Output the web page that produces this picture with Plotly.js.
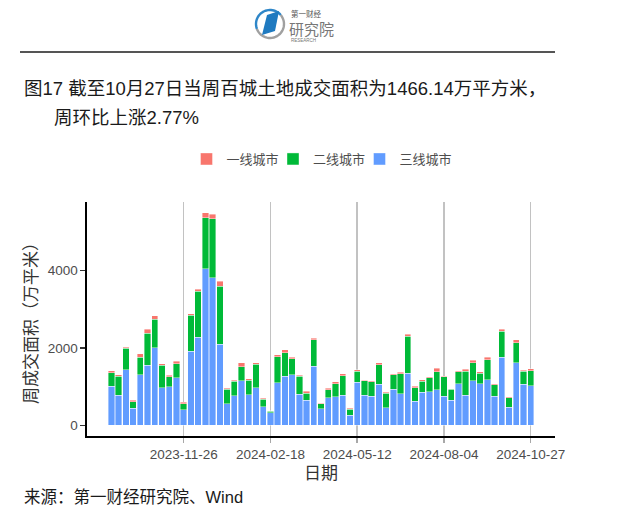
<!DOCTYPE html>
<html>
<head>
<meta charset="utf-8">
<script src="https://cdn.plot.ly/plotly-3.0.1.min.js"></script>
<style>
html,body{margin:0;padding:0;background:#fff;}
#chart{width:640px;height:516px;}
</style>
</head>
<body>
<div id="chart"></div>
<script>
// ---------- data ----------
const weeks = [
  '2023-09-17','2023-09-24','2023-10-01','2023-10-08','2023-10-15','2023-10-22','2023-10-29',
  '2023-11-05','2023-11-12','2023-11-19','2023-11-26','2023-12-03','2023-12-10','2023-12-17',
  '2023-12-24','2023-12-31','2024-01-07','2024-01-14','2024-01-21','2024-01-28','2024-02-04',
  '2024-02-11','2024-02-18','2024-02-25','2024-03-03','2024-03-10','2024-03-17','2024-03-24',
  '2024-03-31','2024-04-07','2024-04-14','2024-04-21','2024-04-28','2024-05-05','2024-05-12',
  '2024-05-19','2024-05-26','2024-06-02','2024-06-09','2024-06-16','2024-06-23','2024-06-30',
  '2024-07-07','2024-07-14','2024-07-21','2024-07-28','2024-08-04','2024-08-11','2024-08-18',
  '2024-08-25','2024-09-01','2024-09-08','2024-09-15','2024-09-22','2024-09-29','2024-10-06',
  '2024-10-13','2024-10-20','2024-10-27'
];
const tier3 = [1010,780,1440,440,1310,1560,2010,970,995,1230,410,1910,2280,4050,3820,2100,560,770,1150,790,
  970,480,325,1100,1270,1310,800,650,1530,430,710,745,780,265,1115,780,755,1065,455,935,
  815,1345,620,850,865,925,755,650,1080,780,1150,1080,1185,755,1760,470,1615,1060,1020];
const tier2 = [345,490,550,170,455,825,735,590,265,365,155,935,1185,1320,1525,1500,370,370,360,375,
  610,190,35,670,610,410,470,180,685,130,215,325,500,155,290,370,370,500,370,370,
  515,960,350,290,370,455,500,285,310,625,465,265,515,300,675,250,520,340,386];
const tier1 = [60,35,35,35,85,100,85,35,35,60,35,35,60,130,110,120,35,25,110,35,
  35,35,15,60,75,35,25,50,35,15,35,60,60,25,35,15,25,50,35,35,
  45,45,35,35,25,95,15,15,25,45,70,35,60,25,45,15,75,27,60];
const seriesNames = ['三线城市','二线城市','一线城市'];
const tickDates = ['2023-11-26','2024-02-18','2024-05-12','2024-08-04','2024-10-27'];
const yTicks = [0,2000,4000];
const titleLine1 = '图17 截至10月27日当周百城土地成交面积为1466.14万平方米，';
const titleLine2 = '周环比上涨2.77%';
const sourceText = '来源：第一财经研究院、Wind';

// ---------- layout helpers (pixel -> paper) ----------
const W = 640, H = 516, ML = 87, MR = 85, MT = 202, MB = 80;
const PW = W - ML - MR, PH = H - MT - MB;
const px = x => (x - ML) / PW;
const py = y => (H - MB - y) / PH;
const FONT = 'Liberation Sans, Arial, "Noto Sans CJK SC", sans-serif';

function arcPath(cx, cy, r, a0, a1) {
  let d = '';
  const n = 28;
  for (let i = 0; i <= n; i++) {
    const a = (a0 + (a1 - a0) * i / n) * Math.PI / 180;
    const x = px(cx + r * Math.cos(a)), y = py(cy - r * Math.sin(a));
    d += (i === 0 ? 'M' : 'L') + x + ',' + y;
  }
  return d;
}
function polyPath(pts) {
  return pts.map((p, i) => (i === 0 ? 'M' : 'L') + px(p[0]) + ',' + py(p[1])).join('') + 'Z';
}

const colors = ['#619CFF', '#00BA38', '#F8766D'];
const values = [tier3, tier2, tier1];
const legendIds = ['legend3', 'legend2', 'legend'];
const traces = values.map((v, i) => ({
  type: 'bar', x: weeks, y: v, name: seriesNames[i], legend: legendIds[i], showlegend: true,
  marker: {color: colors[i], line: {color: 'rgba(255,255,255,0.8)', width: 0.5}},
  hoverinfo: 'skip'
}));

function legendAt(xSym) {
  return {
    orientation: 'h', x: px(xSym - 20), y: py(159), xanchor: 'left', yanchor: 'middle',
    font: {size: 13, color: '#4D4D4D'}, bgcolor: 'rgba(0,0,0,0)', visible: true
  };
}

const layout = {
  width: W, height: H,
  margin: {l: ML, r: MR, t: MT, b: MB, pad: 0},
  paper_bgcolor: '#fff', plot_bgcolor: '#fff',
  showlegend: true,
  barmode: 'stack', bargap: 0.12,
  font: {family: FONT, color: '#4D4D4D'},
  title: {
    text: titleLine1, xref: 'container', yref: 'container',
    x: 24 / W, xanchor: 'left', y: 1 - 89 / H, yanchor: 'middle',
    font: {size: 18.5, color: '#1a1a1a', family: FONT}
  },
  xaxis: {
    type: 'date', range: ['2023-08-24 10:00', '2024-11-19 12:00'],
    tickvals: tickDates, ticktext: tickDates,
    ticks: 'outside', ticklen: 5, tickwidth: 1.5, tickcolor: '#A8A8A8',
    showline: true, linecolor: '#000', linewidth: 1.6,
    showgrid: true, gridcolor: '#C2C2C2', gridwidth: 1.5, zeroline: false,
    tickfont: {size: 13.5, color: '#4D4D4D'},
    title: {text: '日期', font: {size: 17, color: '#333'}, standoff: 6}
  },
  yaxis: {
    range: [-275, 5775], tickvals: yTicks, ticktext: yTicks.map(String),
    ticks: 'outside', ticklen: 5, tickwidth: 1.5, tickcolor: '#333',
    showline: true, linecolor: '#000', linewidth: 1.6,
    showgrid: false, zeroline: false,
    tickfont: {size: 13.5, color: '#4D4D4D'},
    title: {text: '周成交面积（万平米）', font: {size: 17, color: '#333'}, standoff: 6}
  },
  legend: legendAt(206.5),
  legend2: legendAt(293),
  legend3: legendAt(379.5),
  shapes: [
    {type: 'line', xref: 'paper', yref: 'paper', x0: px(20), x1: px(555), y0: py(52), y1: py(52),
     line: {color: '#555', width: 2}},
    {type: 'path', xref: 'paper', yref: 'paper', path: arcPath(270, 24, 14, 200, 400),
     line: {color: '#A0A0A0', width: 2.4}},
    {type: 'path', xref: 'paper', yref: 'paper', path: arcPath(270, 24, 14, 40, 200),
     line: {color: '#2E86C8', width: 2.4}},
    {type: 'path', xref: 'paper', yref: 'paper',
     path: polyPath([[262, 35], [267, 15], [279, 11], [275, 31]]),
     fillcolor: '#1F7AC0', line: {width: 0}}
  ],
  annotations: [
    {xref: 'paper', yref: 'paper', x: px(52), y: py(118), xanchor: 'left', yanchor: 'middle',
     text: titleLine2, showarrow: false, font: {size: 18.5, color: '#1a1a1a'}},
    {xref: 'paper', yref: 'paper', x: px(22), y: py(497), xanchor: 'left', yanchor: 'middle',
     text: sourceText, showarrow: false, font: {size: 16.5, color: '#1a1a1a'}},
    {xref: 'paper', yref: 'paper', x: px(289), y: py(14), xanchor: 'left', yanchor: 'middle',
     text: '第一财经', showarrow: false, font: {size: 7.5, color: '#555'}},
    {xref: 'paper', yref: 'paper', x: px(287), y: py(29), xanchor: 'left', yanchor: 'middle',
     text: '研究院', showarrow: false, font: {size: 15, color: '#777'}},
    {xref: 'paper', yref: 'paper', x: px(289), y: py(40.5), xanchor: 'left', yanchor: 'middle',
     text: 'RESEARCH', showarrow: false, font: {size: 4.5, color: '#777'}}
  ]
};

Plotly.newPlot('chart', traces, layout, {staticPlot: true, displayModeBar: false});
</script>
</body>
</html>
